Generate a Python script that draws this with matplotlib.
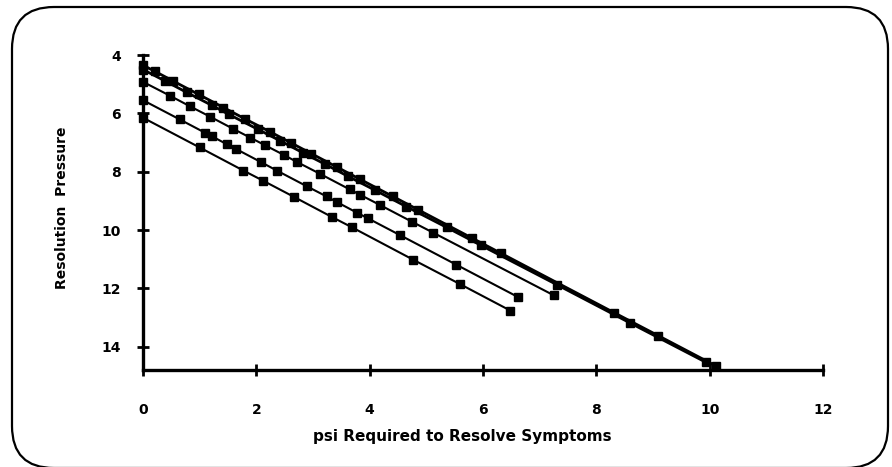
import matplotlib
matplotlib.use("Agg")
from matplotlib import pyplot as plt
from matplotlib.patches import FancyBboxPatch

# psi required (x) vs resolution pressure (y)
top1_x = [0, 0.21, 0.53, 0.98, 1.42, 1.8, 2.24, 2.62, 2.97, 3.42, 3.83, 4.41, 4.85, 5.8, 6.32, 8.32, 9.09, 10.12]
top1_y = [4.35, 4.56, 4.89, 5.35, 5.80, 6.19, 6.63, 7.02, 7.38, 7.84, 8.26, 8.85, 9.30, 10.27, 10.80, 12.84, 13.62, 14.67]

top2_x = [0, 0.39, 0.77, 1.21, 1.51, 2.03, 2.42, 2.83, 3.21, 3.62, 4.09, 4.65, 5.36, 5.97, 7.3, 8.59, 9.94]
top2_y = [4.50, 4.89, 5.28, 5.72, 6.03, 6.55, 6.94, 7.36, 7.74, 8.16, 8.63, 9.20, 9.91, 10.53, 11.87, 13.18, 14.54]

b_x = [0, 0.48, 0.83, 1.18, 1.59, 1.89, 2.15, 2.48, 2.71, 3.12, 3.65, 3.83, 4.18, 4.74, 5.12, 7.25]
b_y = [4.92, 5.40, 5.76, 6.11, 6.53, 6.83, 7.09, 7.42, 7.66, 8.07, 8.61, 8.79, 9.14, 9.71, 10.09, 12.24]

c_x = [0, 0.65, 1.09, 1.21, 1.48, 1.65, 2.09, 2.36, 2.89, 3.24, 3.42, 3.77, 3.97, 4.53, 5.53, 6.62]
c_y = [5.55, 6.21, 6.66, 6.78, 7.06, 7.23, 7.68, 7.96, 8.50, 8.85, 9.04, 9.40, 9.60, 10.17, 11.19, 12.30]

d_x = [0, 1.0, 1.77, 2.12, 2.66, 3.34, 3.68, 4.77, 5.59, 6.48]
d_y = [6.15, 7.17, 7.96, 8.31, 8.86, 9.56, 9.90, 11.02, 11.85, 12.76]

x_ticks = [0, 2, 4, 6, 8, 10, 12]
y_ticks = [4, 6, 8, 10, 12, 14]

plt.rcParams['font.family'] = ['DejaVu Sans']
plt.rcParams['font.weight'] = 'bold'

fig = plt.figure(figsize=(8.92, 4.67), dpi=100)
ax = fig.add_axes([0.1603, 0.2077, 0.7623, 0.6745])

for xs, ys, lw in [(top1_x, top1_y, 2.0), (top2_x, top2_y, 2.0),
                   (b_x, b_y, 1.5), (c_x, c_y, 1.5), (d_x, d_y, 1.5)]:
    ax.plot(xs, ys, color='black', lw=lw, marker='s', markersize=5.5,
            markerfacecolor='black', markeredgecolor='black', clip_on=False)

ax.set_xlim(0, 12)
ax.set_ylim(14.8, 4)
ax.set_xticks(x_ticks)
ax.set_yticks(y_ticks)

for s in ['top', 'right']:
    ax.spines[s].set_visible(False)
for s in ['left', 'bottom']:
    ax.spines[s].set_linewidth(2.4)

ax.tick_params(axis='x', direction='inout', length=8, width=2, pad=20, labelsize=10)
ax.tick_params(axis='y', direction='inout', length=8, width=2, pad=12, labelsize=10)
for lab in ax.get_xticklabels() + ax.get_yticklabels():
    lab.set_fontweight('bold')

fig.text(462 / 892, 1 - 437 / 467, 'psi Required to Resolve Symptoms',
         ha='center', va='center', fontsize=11, fontweight='bold')
fig.text(62 / 892, 1 - 208 / 467, 'Resolution  Pressure', rotation=90,
         ha='center', va='center', fontsize=10, fontweight='bold')

# rounded frame around the whole chart, bottom edge falls just off the page
frame = FancyBboxPatch((0.12, -0.01), 8.76, 4.61,
                       boxstyle='round,pad=0,rounding_size=0.42',
                       transform=fig.dpi_scale_trans, fill=False,
                       edgecolor='black', lw=1.6)
fig.patches.append(frame)

fig.savefig('out.png', dpi=100)
